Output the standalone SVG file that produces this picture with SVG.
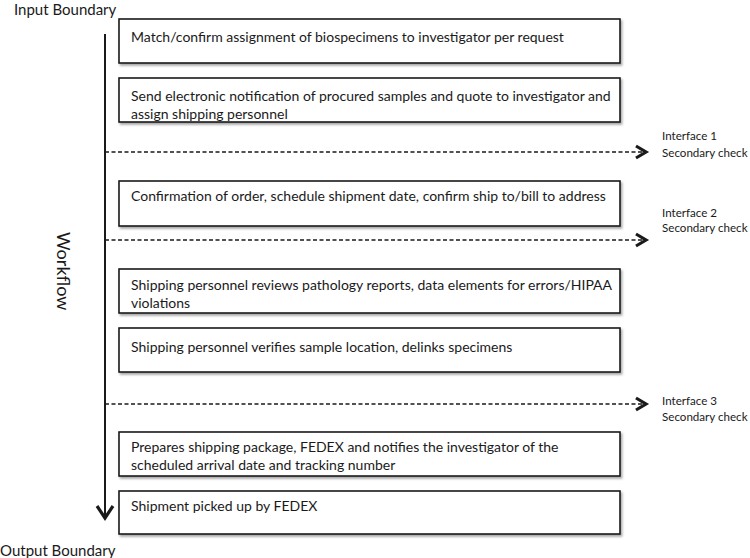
<svg xmlns="http://www.w3.org/2000/svg" width="750" height="558" viewBox="0 0 750 558">
<style>
.t{font-family:Lato,"Open Sans",sans-serif;font-size:14px;fill:#1a1a1a}
.b{font-family:Lato,"Open Sans",sans-serif;font-size:15px;fill:#1a1a1a}
.s{font-family:Lato,"Open Sans",sans-serif;font-size:11.6px;fill:#1a1a1a}
.box{fill:#fff;stroke:#1a1a1a;stroke-width:1.6}
.bd{stroke:#1a1a1a;stroke-width:2.2;fill:none}
.dash{stroke:#1a1a1a;stroke-width:1.6;stroke-dasharray:4 2.5;fill:none}
.head{stroke:#1a1a1a;stroke-width:3.2;fill:none;stroke-linejoin:miter}
</style>
<defs>
<filter id="sh" x="-5%" y="-20%" width="115%" height="160%">
<feDropShadow dx="1.5" dy="2" stdDeviation="1.2" flood-color="#000" flood-opacity="0.35"/>
</filter>
<clipPath id="c2"><rect x="119" y="78" width="501" height="43.5"/></clipPath>
<clipPath id="c6"><rect x="119" y="432" width="501" height="43.5"/></clipPath>
</defs>
<rect width="750" height="558" fill="#fff"/>
<g id="input-boundary">
<text class="b" x="14" y="14.5">Input Boundary</text>
<line class="bd" x1="118" y1="4" x2="620" y2="4" filter="url(#sh)"/>
</g>
<g id="output-boundary">
<text class="b" x="0" y="555.5">Output Boundary</text>
<line class="bd" x1="116" y1="549" x2="620" y2="549" filter="url(#sh)"/>
</g>
<g id="workflow-label">
<text class="t" style="font-size:18px" transform="translate(57,232) rotate(90)">Workflow</text>
</g>
<g id="connectors">
<line class="bd" x1="105" y1="34" x2="105" y2="518" style="stroke-width:2"/>
<polyline class="head" points="97,506 105,518 113,506"/>
<line class="dash" x1="105" y1="152" x2="645" y2="152"/>
<polyline class="head" points="636,146 646,152 636,158"/>
<line class="dash" x1="105" y1="240" x2="645" y2="240"/>
<polyline class="head" points="636,234 646,240 636,246"/>
<line class="dash" x1="105" y1="404" x2="645" y2="404"/>
<polyline class="head" points="636,398 646,404 636,410"/>
</g>
<g id="box1">
<rect class="box" x="119" y="19" width="501" height="44" filter="url(#sh)"/>
<text class="t" x="131" y="42">Match/confirm assignment of biospecimens to investigator per request</text>
</g>
<g id="box2">
<rect class="box" x="119" y="78" width="501" height="44" filter="url(#sh)"/>
<g clip-path="url(#c2)">
<text class="t" x="131" y="101">Send electronic notification of procured samples and quote to investigator and</text>
<text class="t" x="131" y="119">assign shipping personnel</text>
</g>
</g>
<g id="box3">
<rect class="box" x="119" y="181" width="501" height="45" filter="url(#sh)"/>
<text class="t" x="131" y="201">Confirmation of order, schedule shipment date, confirm ship to/bill to address</text>
</g>
<g id="box4">
<rect class="box" x="119" y="269" width="501" height="44" filter="url(#sh)"/>
<text class="t" x="131" y="290">Shipping personnel reviews pathology reports, data elements for errors/HIPAA</text>
<text class="t" x="131" y="308">violations</text>
</g>
<g id="box5">
<rect class="box" x="119" y="328" width="501" height="44" filter="url(#sh)"/>
<text class="t" x="131" y="352">Shipping personnel verifies sample location, delinks specimens</text>
</g>
<g id="box6">
<rect class="box" x="119" y="432" width="501" height="44" filter="url(#sh)"/>
<g clip-path="url(#c6)">
<text class="t" x="131" y="452">Prepares shipping package, FEDEX and notifies the investigator of the</text>
<text class="t" x="131" y="470">scheduled arrival date and tracking number</text>
</g>
</g>
<g id="box7">
<rect class="box" x="119" y="491" width="501" height="43" filter="url(#sh)"/>
<text class="t" x="131" y="511">Shipment picked up by FEDEX</text>
</g>
<g id="interface1">
<text class="s" x="662" y="140">Interface 1</text>
<text class="s" x="662" y="157">Secondary check</text>
</g>
<g id="interface2">
<text class="s" x="662" y="217">Interface 2</text>
<text class="s" x="662" y="231.5">Secondary check</text>
</g>
<g id="interface3">
<text class="s" x="662" y="405">Interface 3</text>
<text class="s" x="662" y="421">Secondary check</text>
</g>
</svg>
